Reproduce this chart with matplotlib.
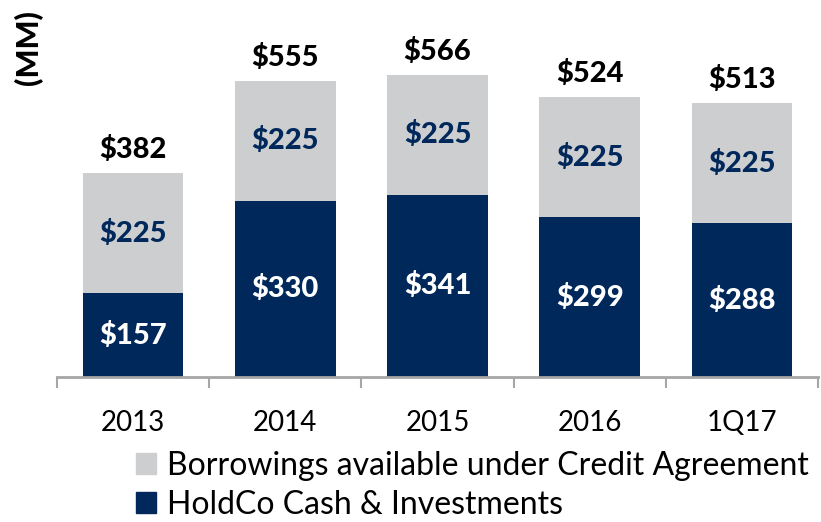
import matplotlib
matplotlib.use("Agg")
import matplotlib.pyplot as plt
from matplotlib.patches import Patch
import numpy as np

categories = ["2013", "2014", "2015", "2016", "1Q17"]
holdco = [157, 330, 341, 299, 288]
borrow = [225, 225, 225, 225, 225]
totals = [382, 555, 566, 524, 513]

navy = "#00285A"
gray = "#CDCED0"
plt.rcParams['font.family'] = ['Lato', 'DejaVu Sans']

W, H = 821, 522
fig = plt.figure(figsize=(W/100, H/100), dpi=100)
ax = fig.add_axes([57/W, (H-377)/H, (818-57)/W, 377/H])

x = np.arange(len(categories))
ax.bar(x, holdco, width=0.66, color=navy, zorder=2)
ax.bar(x, borrow, bottom=holdco, width=0.66, color=gray, zorder=2)

for i in range(len(categories)):
    ax.text(x[i], holdco[i]/2, f"${holdco[i]}", ha="center", va="center",
            color="white", fontsize=21, fontweight="black")
    ax.text(x[i], holdco[i] + borrow[i]/2, f"${borrow[i]}", ha="center", va="center",
            color=navy, fontsize=21, fontweight="black")
    ax.annotate(f"${totals[i]}", (x[i], totals[i]), xytext=(0, 7), textcoords="offset points",
                ha="center", va="bottom", fontsize=21, fontweight="black", color="black")

ax.set_xlim(-0.5, len(categories) - 0.5)
ax.set_ylim(0, 706)
for s in ["top", "right", "left"]:
    ax.spines[s].set_visible(False)
ax.spines["bottom"].set_color("#A6A6A6")
ax.spines["bottom"].set_linewidth(2)
ax.set_yticks([])
ax.set_xticks(x)
ax.set_xticklabels(categories, fontsize=20)
ax.tick_params(axis="x", which="major", length=0, pad=24)
ax.set_xticks(np.arange(-0.5, len(categories), 1), minor=True)
ax.tick_params(axis="x", which="minor", length=8, width=1.5, color="#A6A6A6")

fig.text(29/W, 1 - 48/H, "(MM)", rotation=90, ha="center", va="center",
         fontsize=22, fontweight="black")

handles = [Patch(color=gray, label="Borrowings available under Credit Agreement"),
           Patch(color=navy, label="HoldCo Cash & Investments")]
fig.legend(handles=handles, loc="upper left", bbox_to_anchor=(136/W, 1 - 451/H),
           frameon=False, fontsize=23, handlelength=0.63, handleheight=0.63,
           handletextpad=0.34, labelspacing=0.28, borderpad=0, borderaxespad=0)

fig.savefig("out.png", dpi=100)
